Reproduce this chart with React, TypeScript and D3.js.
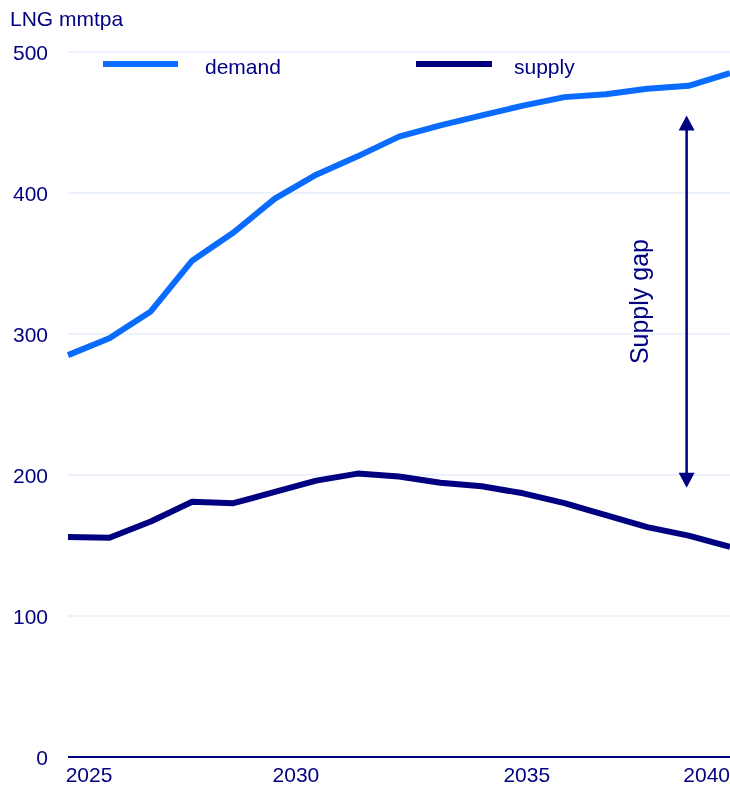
import React from 'react';
import * as d3 from 'd3';

// LNG demand vs supply outlook, mmtpa
const years = [2024, 2025, 2026, 2027, 2028, 2029, 2030, 2031, 2032, 2033, 2034, 2035, 2036, 2037, 2038, 2039, 2040];
const demand = [285, 297, 316, 352, 372, 396, 413, 426, 440, 448, 455, 462, 468, 470, 474, 476, 485];
const supply = [156, 155.5, 167, 181, 180, 188, 196, 201, 199, 194.5, 192, 187, 180, 171.5, 163, 157, 149];

const yTicks = [0, 100, 200, 300, 400, 500];
const xTickYears = [2025, 2030, 2035, 2040];
// label nudges (px) so the year labels sit where the original put them
const xTickNudge = [3, 3, 27, 3];

const gapYear = 2039;
const gapRange = [191, 455];

const NAVY = '#000080';
const BLUE = '#0a6cff';
const GRID = '#e6eefb';
const FONT = '"Liberation Sans", Arial, sans-serif';

const W = 730;
const H = 785;
const margin = { top: 52, right: 0, bottom: 28, left: 68 };

const App: React.FC = () => {
  const x = d3.scaleLinear()
    .domain([years[0], years[years.length - 1]])
    .range([margin.left, W - margin.right]);

  const y = d3.scaleLinear()
    .domain([0, 500])
    .range([H - margin.bottom, margin.top]);

  const line = d3.line<number>()
    .x((_, i) => x(years[i]))
    .y(d => y(d));

  const gx = x(gapYear) - 2;
  const gTop = y(gapRange[1]);
  const gBot = y(gapRange[0]);
  const head = 15;

  return (
    <div style={{ position: 'fixed', left: 0, top: 0 }}>
      <svg width={W} height={H} style={{ display: 'block', fontFamily: FONT }}>
        {/* grid */}
        {yTicks.filter(t => t > 0).map(t => (
          <line key={t} x1={margin.left} x2={W - margin.right} y1={y(t)} y2={y(t)}
            stroke={GRID} strokeWidth={1.5} />
        ))}

        {/* y tick labels */}
        {yTicks.map(t => (
          <text key={t} x={48} y={y(t)} dy="0.36em" textAnchor="end" fontSize={21} fill={NAVY}>
            {t}
          </text>
        ))}

        <text x={10} y={26} fontSize={21} fill={NAVY}>LNG mmtpa</text>

        {/* x axis */}
        <line x1={margin.left} x2={W - margin.right} y1={y(0)} y2={y(0)} stroke={NAVY} strokeWidth={2} />
        {xTickYears.map((yr, i) => (
          <text key={yr} x={Math.min(x(yr) + xTickNudge[i], W)} y={782} textAnchor="end" fontSize={21} fill={NAVY}>
            {yr}
          </text>
        ))}

        {/* series */}
        <path d={line(demand) ?? ''} fill="none" stroke={BLUE} strokeWidth={6} strokeLinejoin="round" />
        <path d={line(supply) ?? ''} fill="none" stroke={NAVY} strokeWidth={6} strokeLinejoin="round" />

        {/* legend */}
        <line x1={103} x2={178} y1={64} y2={64} stroke={BLUE} strokeWidth={6} />
        <text x={205} y={74} fontSize={21} fill={NAVY}>demand</text>
        <line x1={416} x2={492} y1={64} y2={64} stroke={NAVY} strokeWidth={6} />
        <text x={514} y={74} fontSize={21} fill={NAVY}>supply</text>

        {/* supply gap arrow */}
        <line x1={gx} x2={gx} y1={gTop + head - 2} y2={gBot - head + 2} stroke={NAVY} strokeWidth={2.5} />
        <path d={`M${gx},${gTop} L${gx - 8},${gTop + head} L${gx + 8},${gTop + head} Z`} fill={NAVY} />
        <path d={`M${gx},${gBot} L${gx - 8},${gBot - head} L${gx + 8},${gBot - head} Z`} fill={NAVY} />
        <text transform={`translate(648, ${(gTop + gBot) / 2}) rotate(-90)`} textAnchor="middle"
          fontSize={25} fill={NAVY}>
          Supply gap
        </text>
      </svg>
    </div>
  );
};

export default App;
